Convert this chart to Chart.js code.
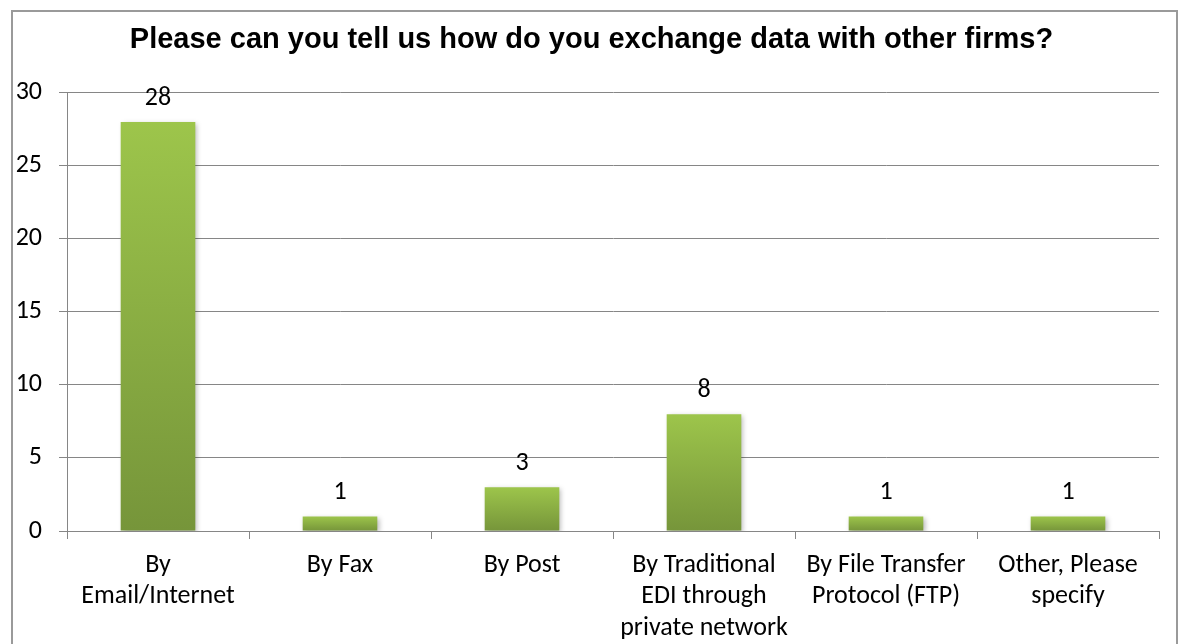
<!DOCTYPE html>
<html lang="en">
<head>
    <meta charset="UTF-8">
    <title>Data exchange survey</title>
    <script src="https://cdn.jsdelivr.net/npm/chart.js"></script>
    <style>
        html, body { margin: 0; padding: 0; background: #fff; }
        #wrap { width: 1183px; height: 644px; }
    </style>
</head>
<body>
    <div id="wrap"><canvas id="myChart" width="1183" height="644"></canvas></div>

    <script>
        const categories = [
            ['By', 'Email/Internet'],
            'By Fax',
            'By Post',
            ['By Traditional', 'EDI through', 'private network'],
            ['By File Transfer', 'Protocol (FTP)'],
            ['Other, Please', 'specify']
        ];
        const responses = [28, 1, 3, 8, 1, 1];
        const yTicks = [0, 5, 10, 15, 20, 25, 30];

        const bodyFont = 'Carlito, Calibri, "Open Sans", sans-serif';
        const axisGrey = '#868686';

        // per-bar vertical gradient, light on top, darker at the base
        function barFill(ctx) {
            const chart = ctx.chart;
            const y = chart.scales.y;
            if (!chart.chartArea || !y || ctx.type !== 'data') return '#8fb545';
            const top = y.getPixelForValue(ctx.raw);
            const base = y.getPixelForValue(0);
            if (!isFinite(top) || !isFinite(base) || top === base) return '#8fb545';
            const g = chart.ctx.createLinearGradient(0, top, 0, base);
            g.addColorStop(0, '#9dc54b');
            g.addColorStop(1, '#76953a');
            return g;
        }

        const frame = {
            id: 'frame',
            beforeDraw(chart) {
                const c = chart.ctx;
                c.save();
                c.strokeStyle = '#9a9a9a';
                c.lineWidth = 2;
                c.beginPath();
                c.moveTo(12, 660);
                c.lineTo(12, 11);
                c.lineTo(1177, 11);
                c.lineTo(1177, 660);
                c.stroke();
                c.restore();
            }
        };

        const barShadow = {
            id: 'barShadow',
            beforeDatasetDraw(chart) {
                const c = chart.ctx;
                c.save();
                c.shadowColor = 'rgba(0,0,0,0.28)';
                c.shadowBlur = 5;
                c.shadowOffsetX = 2;
                c.shadowOffsetY = 2;
            },
            afterDatasetDraw(chart) {
                chart.ctx.restore();
            }
        };

        const valueLabels = {
            id: 'valueLabels',
            afterDatasetsDraw(chart) {
                const c = chart.ctx;
                const meta = chart.getDatasetMeta(0);
                c.save();
                c.font = '26px ' + bodyFont;
                c.fillStyle = '#000';
                c.textAlign = 'center';
                c.textBaseline = 'middle';
                meta.data.forEach((bar, i) => {
                    c.fillText(String(responses[i]), bar.x, bar.y - 24);
                });
                c.restore();
            }
        };

        new Chart(document.getElementById('myChart'), {
            type: 'bar',
            data: {
                labels: categories,
                datasets: [{
                    label: 'Responses',
                    data: responses,
                    backgroundColor: barFill,
                    borderWidth: 0,
                    barPercentage: 0.41,
                    categoryPercentage: 1
                }]
            },
            options: {
                responsive: false,
                animation: false,
                layout: { padding: 0 },
                plugins: {
                    legend: { display: false },
                    tooltip: { enabled: false },
                    title: {
                        display: true,
                        text: 'Please can you tell us how do you exchange data with other firms?',
                        color: '#000',
                        font: { family: '"Liberation Sans", Arial, sans-serif', size: 29, weight: 'bold', lineHeight: 1.2 },
                        padding: { top: 23, bottom: 35 }
                    }
                },
                scales: {
                    x: {
                        grid: {
                            offset: true,
                            drawOnChartArea: false,
                            tickLength: 8,
                            color: axisGrey
                        },
                        border: { color: axisGrey },
                        ticks: {
                            color: '#000',
                            font: { family: bodyFont, size: 26, lineHeight: 1.2 },
                            maxRotation: 0,
                            autoSkip: false,
                            padding: 11
                        },
                        afterFit(scale) { scale.height = 113; }
                    },
                    y: {
                        min: 0,
                        max: 30,
                        afterBuildTicks(scale) { scale.ticks = yTicks.map(v => ({ value: v })); },
                        grid: { color: axisGrey, tickLength: 8 },
                        border: { color: axisGrey },
                        ticks: {
                            color: '#000',
                            font: { family: bodyFont, size: 26 },
                            padding: 17
                        },
                        afterFit(scale) { scale.width = 67; }
                    },
                    // empty right-hand margin so the plot stops short of the frame
                    yMargin: {
                        position: 'right',
                        min: 0,
                        max: 30,
                        grid: { display: false, drawTicks: false },
                        border: { display: false },
                        ticks: { display: false },
                        afterFit(scale) { scale.width = 24; }
                    }
                }
            },
            plugins: [frame, barShadow, valueLabels]
        });
    </script>
</body>
</html>
